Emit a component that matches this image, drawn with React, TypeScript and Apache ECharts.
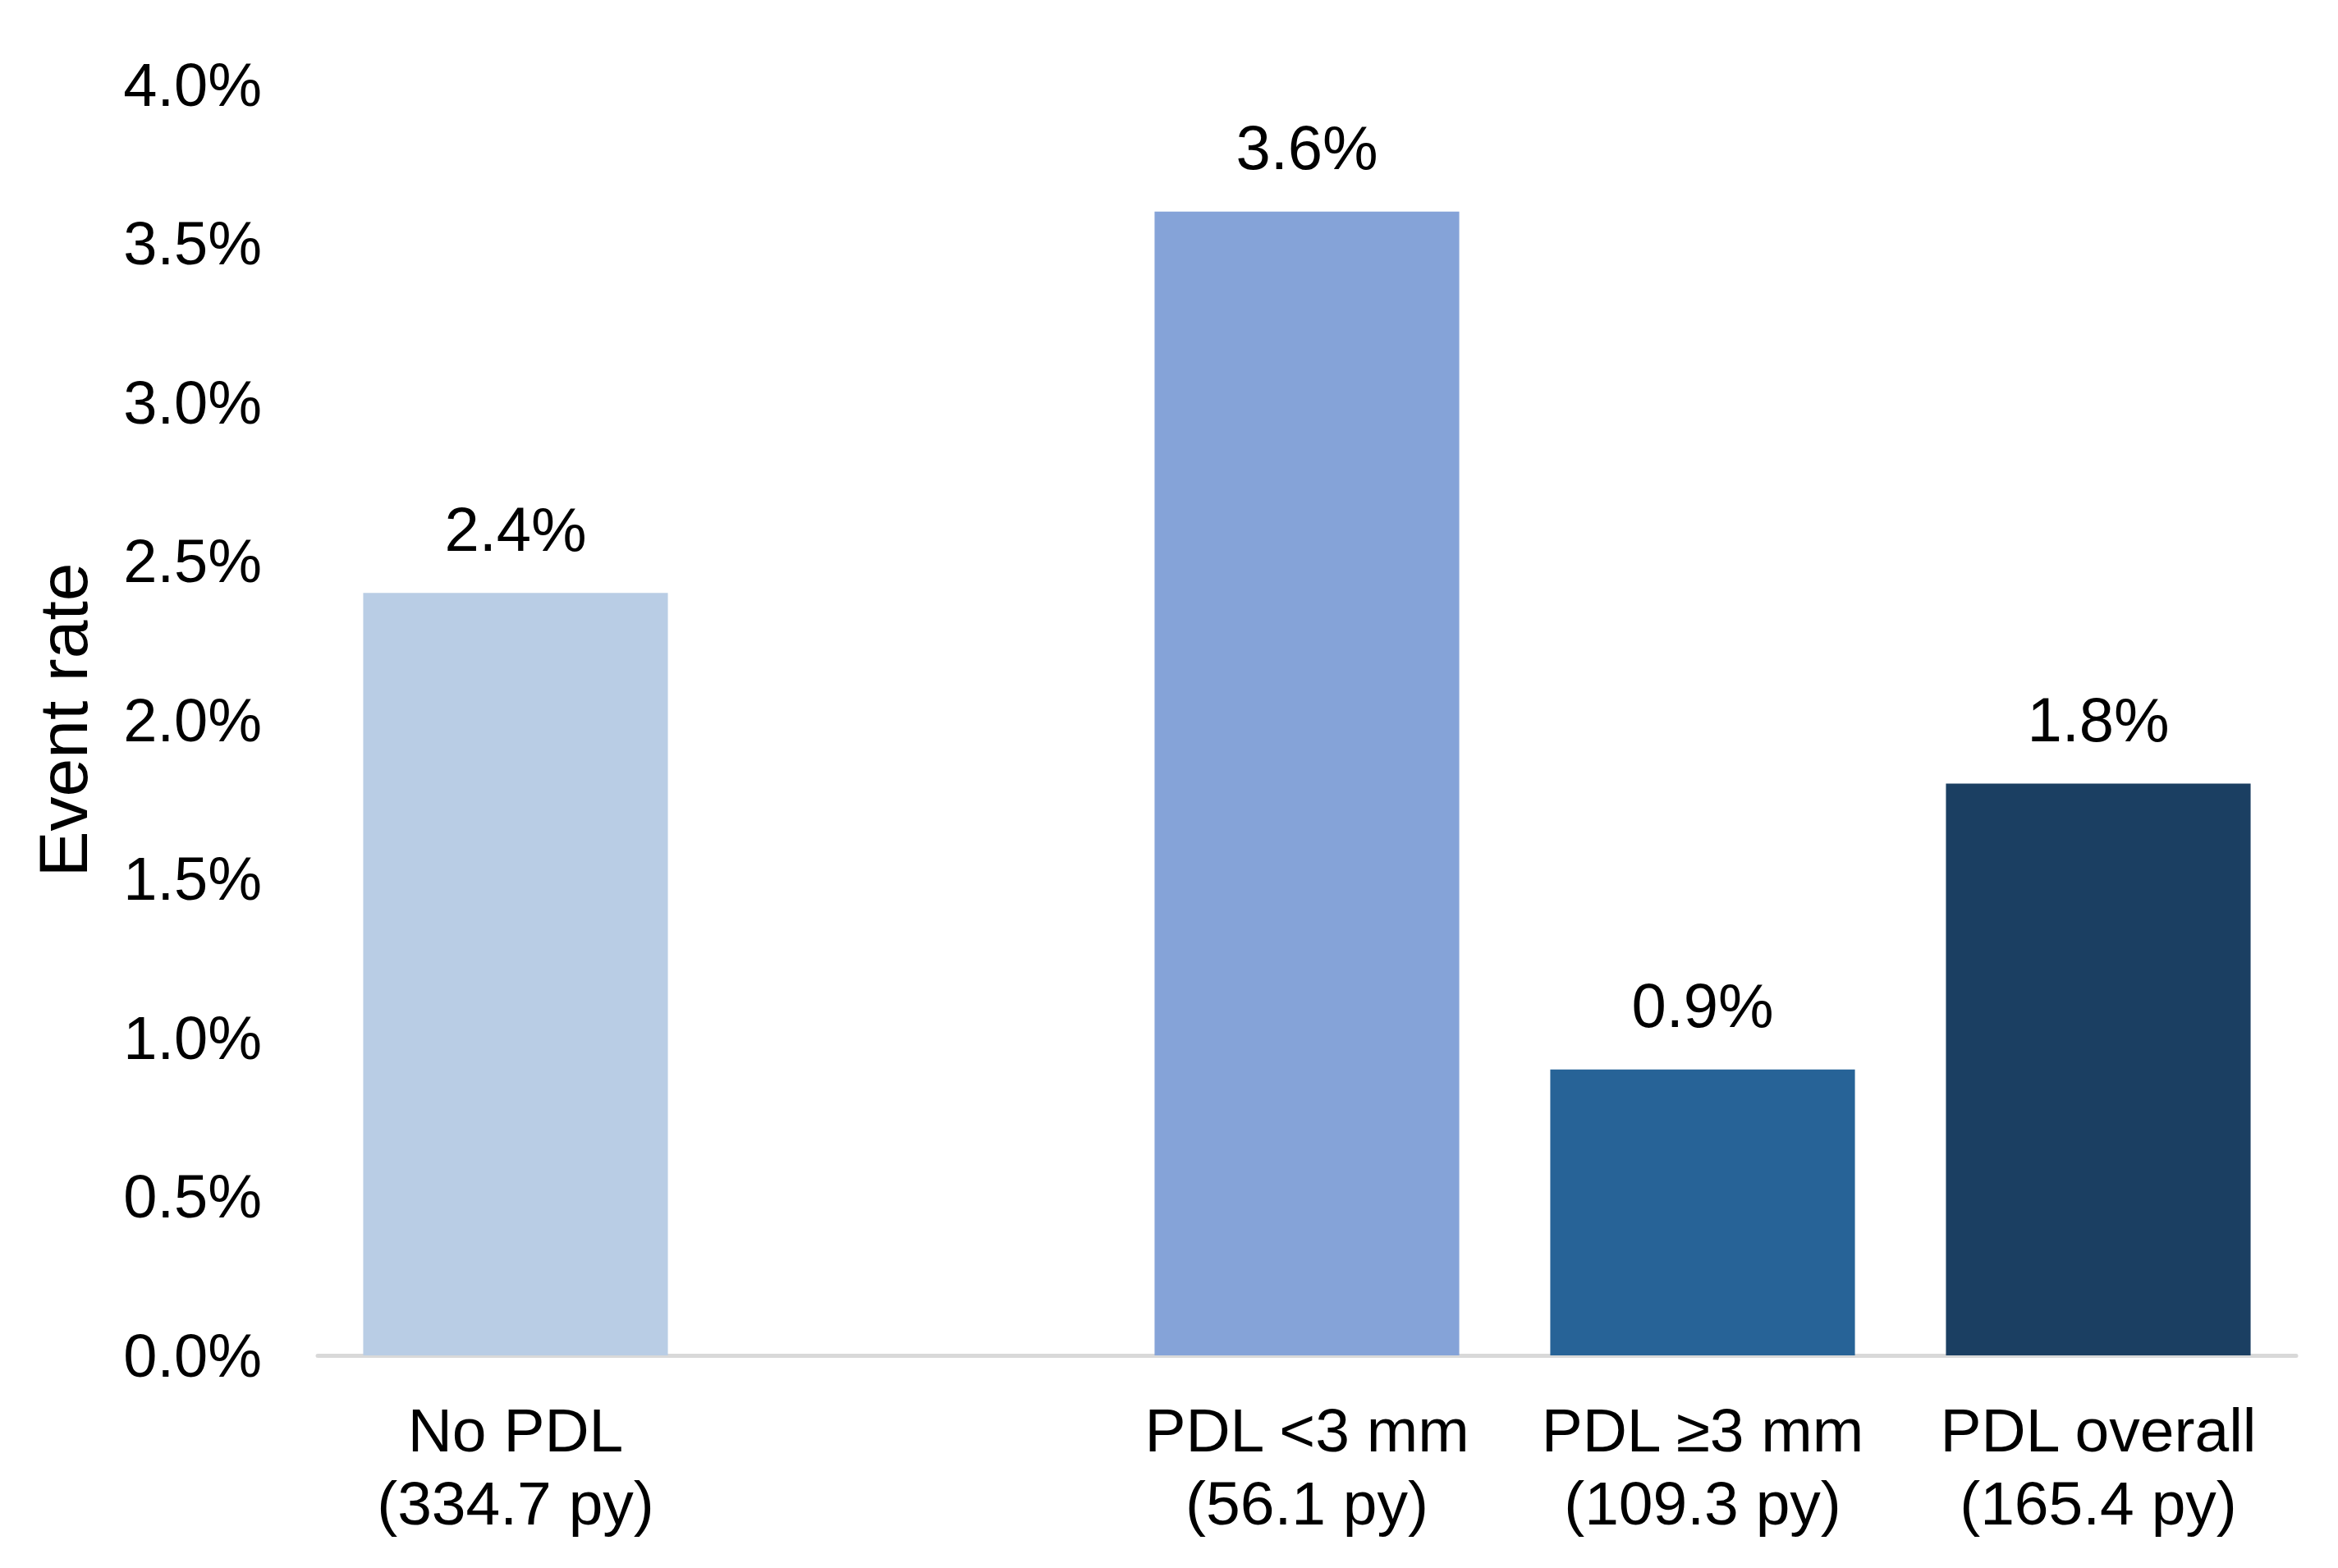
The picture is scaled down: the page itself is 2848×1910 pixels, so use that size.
import React, { useEffect, useRef } from "react";
import * as echarts from "echarts";

const categories = ["No PDL\n(334.7 py)", "", "PDL <3 mm\n(56.1 py)", "PDL ≥3 mm\n(109.3 py)", "PDL overall\n(165.4 py)"];
const values: (number | null)[] = [2.4, null, 3.6, 0.9, 1.8];
const barColors = ["#B9CDE5", "#FFFFFF", "#85A3D8", "#276397", "#1B3F62"];
const yTicks = { min: 0, max: 4, interval: 0.5 };

const FONT = "Liberation Sans, Arial, sans-serif";

export default function App() {
  const ref = useRef<HTMLDivElement>(null);
  useEffect(() => {
    document.body.style.margin = "0";
    const chart = echarts.init(ref.current!, null, { renderer: "svg" });
    chart.setOption({
      animation: false,
      backgroundColor: "#ffffff",
      textStyle: { fontFamily: FONT },
      grid: { left: 387, right: 51, top: 103, bottom: 259, containLabel: false },
      xAxis: {
        type: "category",
        data: categories,
        axisLine: { show: true, lineStyle: { color: "#D9D9D9", width: 5 } },
        axisTick: { show: false },
        axisLabel: {
          color: "#000",
          fontSize: 75,
          lineHeight: 89,
          margin: 46,
          fontFamily: FONT,
          interval: 0,
        },
      },
      yAxis: {
        type: "value",
        min: yTicks.min,
        max: yTicks.max,
        interval: yTicks.interval,
        name: "Event rate",
        nameLocation: "middle",
        nameGap: 268,
        nameTextStyle: { color: "#000", fontSize: 84, fontFamily: FONT },
        axisLine: { show: false },
        axisTick: { show: false },
        splitLine: { show: false },
        axisLabel: {
          color: "#000",
          fontSize: 74,
          margin: 68,
          fontFamily: FONT,
          formatter: (v: number) => v.toFixed(1) + "%",
        },
      },
      series: [
        {
          type: "bar",
          barWidth: "77%",
          data: values.map((v, i) =>
            v === null ? "-" : { value: v, itemStyle: { color: barColors[i] } }
          ),
          label: {
            show: true,
            position: "top",
            distance: 40,
            color: "#000",
            fontSize: 76,
            fontFamily: FONT,
            formatter: (p: any) => Number(p.value).toFixed(1) + "%",
          },
        },
      ],
    });
    return () => chart.dispose();
  }, []);
  return <div ref={ref} style={{ width: 2848, height: 1910 }} />;
}
